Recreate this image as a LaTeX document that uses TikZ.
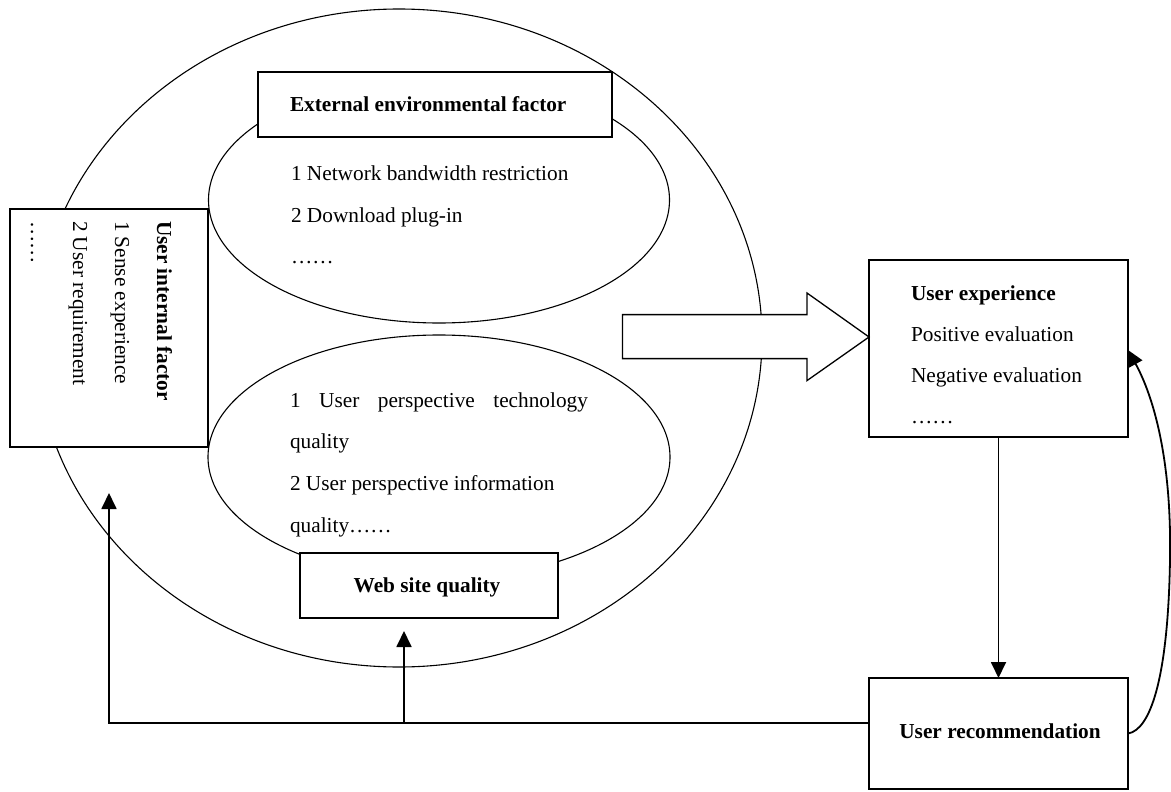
\documentclass[tikz,border=0pt]{standalone}
\usepackage{fontspec}
\setmainfont{Liberation Serif}
\usetikzlibrary{arrows.meta,shapes.geometric}

\begin{document}
\begin{tikzpicture}[x=1pt,y=-1pt,
  every node/.style={inner sep=0pt, outer sep=0pt},
  txt/.style={font=\fontsize{21.3}{42}\selectfont, anchor=base west},
  btxt/.style={font=\fontsize{21.3}{42}\selectfont\bfseries, anchor=base west},
  oval/.style={draw, line width=1.1pt, ellipse},
  box/.style={draw, line width=1.3pt, fill=white, rectangle},
  link/.style={line width=1.8pt, -{Triangle[width=15pt,length=16pt]}},
  plain/.style={line width=1.8pt},
]
\useasboundingbox (0,0) rectangle (1171,792);

% the outer ring and the two inner ovals
\node[oval, minimum width=726pt, minimum height=658pt] (outer) at (399,338) {};
\node[oval, minimum width=461pt, minimum height=246pt] (envoval) at (439,200) {};
\node[oval, minimum width=462pt, minimum height=244pt] (siteoval) at (439,457) {};

% boxes
\node[box, minimum width=354pt, minimum height=65pt] (ext) at (435,104.5) {};
\node[box, minimum width=198pt, minimum height=238pt] (inner) at (109,328) {};
\node[box, minimum width=258pt, minimum height=65pt] (web) at (429,585.5) {};
\node[box, minimum width=259pt, minimum height=177pt] (ue) at (998.5,348.5) {};
\node[box, minimum width=259pt, minimum height=111pt] (ur) at (998.5,733.5) {};

% big hollow arrow into the user experience box
\draw[line width=1.3pt, fill=white]
  (622.5,314.6) -- (807,314.6) -- (807,293) -- (869,337) -- (807,380.6)
  -- (807,358.6) -- (622.5,358.6) -- cycle;

% texts: external environment
\node[btxt] (exttitle) at (290,112) {External environmental factor};
\node[txt] (env1) at (291,180) {1 Network bandwidth restriction};
\node[txt] (env2) at (291,222) {2 Download plug-in};
\node[txt] (env3) at (291,263) {……};

% texts: web site quality
\node[txt] (site1) at (290,407) {\makebox[298pt][s]{1 User perspective technology}};
\node[txt] (site2) at (290,448) {quality};
\node[txt] (site3) at (290,490) {2 User perspective information};
\node[txt] (site4) at (290,532) {quality……};
\node[btxt, anchor=base] (webtitle) at (427,592) {Web site quality};

% texts: user internal factor (set vertically)
\node[btxt, rotate=-90] (in1) at (157,221) {User internal factor};
\node[txt, rotate=-90] (in2) at (115,221) {1 Sense experience};
\node[txt, rotate=-90] (in3) at (73,221) {2 User requirement};
\node[txt, rotate=-90] (in4) at (31,221) {……};

% texts: user experience
\node[btxt] (ue1) at (911,300) {User experience};
\node[txt] (ue2) at (911,341) {Positive evaluation};
\node[txt] (ue3) at (911,382) {Negative evaluation};
\node[txt] (ue4) at (911,423) {……};

% texts: user recommendation
\node[btxt, anchor=base] (urtitle) at (1000,738) {User recommendation};

% connectors
\coordinate (fbleft) at (109,723);
\coordinate (lefttip) at (109,493);
\coordinate (fbmid) at (404,723);
\coordinate (midtip) at (404,631);
\coordinate (uein) at (1128,350);

\draw[link] (ue.south) -- (ur.north);
\draw[link] (ur.west |- fbleft) -- (fbleft) -- (lefttip);
\draw[link] (fbmid) -- (midtip);
\draw[link] (ur.east) .. controls (1150,730) and (1168,680) .. (1170,560)
  .. controls (1172,450) and (1150,390) .. (uein);
\end{tikzpicture}
\end{document}
